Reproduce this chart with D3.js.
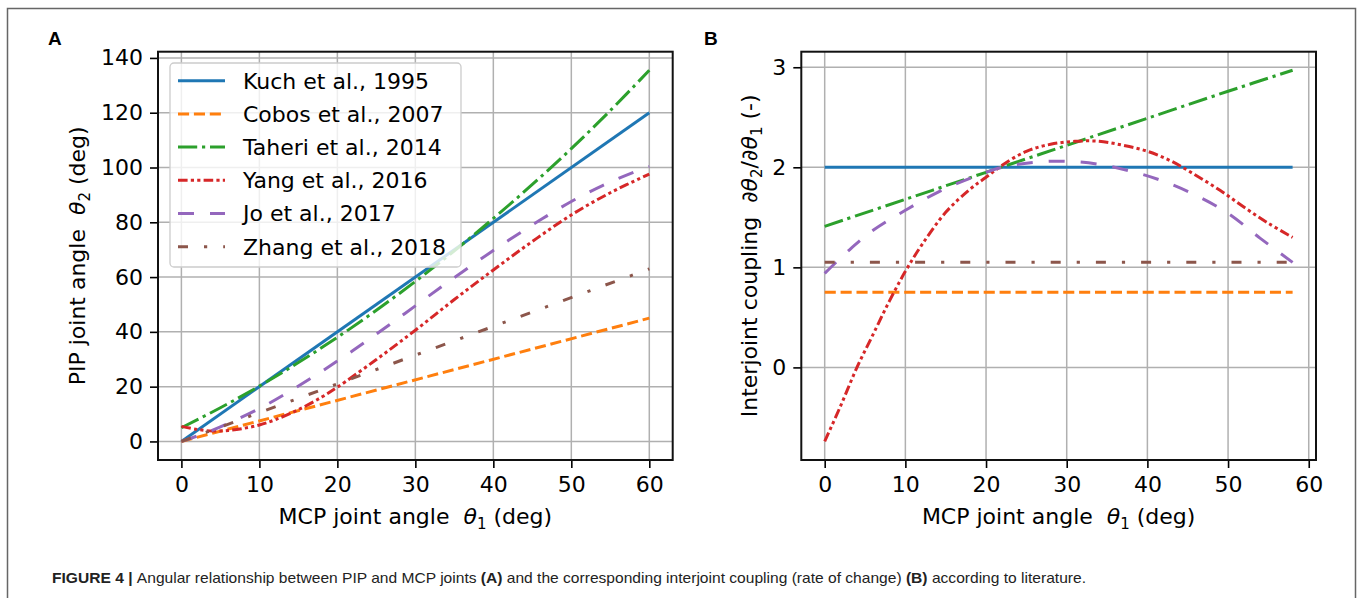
<!DOCTYPE html>
<html><head><meta charset="utf-8">
<script src="https://cdn.jsdelivr.net/npm/d3@7"></script>
<style>
html,body{margin:0;padding:0;background:#fff;}
svg{display:block;}
text{font-family:"DejaVu Sans",sans-serif;}
</style></head>
<body>
<script>
// ---------------- data ----------------
const seriesNames = ["Kuch et al., 1995","Cobos et al., 2007","Taheri et al., 2014","Yang et al., 2016","Jo et al., 2017","Zhang et al., 2018"];

// Panel A: PIP angle vs MCP angle (deg)
const kuchAX = [0, 60];
const kuchAY = [0, 120];
const cobosAX = [0, 60];
const cobosAY = [0, 45];
const taheriAX = [0,5,10,15,20,25,30,35,40,45,50,55,60];
const taheriAY = [5.0,12.3,20.2,28.8,38.0,47.9,58.4,69.6,81.4,93.8,106.9,120.8,135.5];
const yangAX = [0,2,4,6,8,10,12,15,18,20,25,30,35,40,45,50,55,60];
const yangAY = [5.5,4.4,3.8,4.0,4.8,6.0,7.9,11.6,16.2,19.8,29.9,40.6,51.8,62.6,73.0,82.7,90.8,97.6];
const joAX = [0,3,6,10,14,18,22,26,30,34,38,42,46,50,54,58,60];
const joAY = [0,3.0,6.6,12.0,18.5,25.6,33.2,41.2,49.5,57.8,65.8,73.5,80.8,87.6,93.4,98.3,100.3];
const zhangAX = [0, 60];
const zhangAY = [0, 63];

// Panel B: interjoint coupling vs MCP angle
const kuchBX = [0, 58];
const kuchBY = [2, 2];
const cobosBX = [0, 58];
const cobosBY = [0.75, 0.75];
const taheriBX = [0,10,20,30,40,50,58];
const taheriBY = [1.41,1.68,1.95,2.22,2.49,2.76,2.97];
const yangBX = [0,2,4,6,8,10,12,15,18,20,22,25,28,31,34,37,40,43,46,49,52,55,58];
const yangBY = [-0.74,-0.38,0.0,0.33,0.66,0.96,1.22,1.55,1.78,1.9,2.02,2.16,2.23,2.26,2.26,2.22,2.16,2.06,1.92,1.77,1.6,1.44,1.3];
const joBX = [0,3,6,10,14,18,22,26,30,34,38,42,46,50,54,58];
const joBY = [0.94,1.17,1.37,1.57,1.75,1.89,2.0,2.05,2.06,2.03,1.96,1.86,1.72,1.54,1.29,1.05];
const zhangBX = [0, 58];
const zhangBY = [1.05, 1.05];

// ticks
const xTicksA = [0,10,20,30,40,50,60];
const yTicksA = [0,20,40,60,80,100,120,140];
const xTicksB = [0,10,20,30,40,50,60];
const yTicksB = [0,1,2,3];

// ---------------- styles ----------------
const colors = ["#1f77b4","#ff7f0e","#2ca02c","#d62728","#9467bd","#8c564b"];
const dashes = [null,"11.1,4.8","19.2,4.8,3.2,4.8","9.6,3.2,3.2,3.2,3.2,3.2","16,16","10,16,3.2,16"];
const LW = 3;
const FS = 22;

const W = 1358, H = 598;
const svg = d3.select("body").append("svg").attr("width", W).attr("height", H);
svg.append("rect").attr("width", W).attr("height", H).attr("fill", "#fff");

// outer frame
svg.append("path").attr("d", `M7.5,${H} V8.5 H1355.5 V${H}`)
  .attr("fill","none").attr("stroke","#666").attr("stroke-width",1.5);

function zip(xs, ys){ return xs.map((v,i)=>[v, ys[i]]); }
function padDomain(vals){
  const mn = d3.min(vals), mx = d3.max(vals), p = (mx-mn)*0.05;
  return [mn-p, mx+p];
}

function drawPanel(cfg){
  const g = svg.append("g");
  const allX = cfg.series.flatMap(s=>s[0]);
  const allY = cfg.series.flatMap(s=>s[1]);
  const x = d3.scaleLinear().domain(padDomain(allX)).range([cfg.L, cfg.R]);
  const y = d3.scaleLinear().domain(padDomain(allY)).range([cfg.B, cfg.T]);

  // grid
  g.append("g").selectAll("line").data(cfg.xTicks).join("line")
    .attr("x1", d=>x(d)).attr("x2", d=>x(d)).attr("y1", cfg.T).attr("y2", cfg.B)
    .attr("stroke","#b0b0b0").attr("stroke-width",1.5);
  g.append("g").selectAll("line").data(cfg.yTicks).join("line")
    .attr("y1", d=>y(d)).attr("y2", d=>y(d)).attr("x1", cfg.L).attr("x2", cfg.R)
    .attr("stroke","#b0b0b0").attr("stroke-width",1.5);

  // lines
  const line = d3.line().x(d=>x(d[0])).y(d=>y(d[1])).curve(d3.curveCatmullRom.alpha(0.5));
  cfg.series.forEach((s,i)=>{
    const p = g.append("path").attr("d", line(zip(s[0], s[1])))
      .attr("fill","none").attr("stroke", colors[i]).attr("stroke-width", LW)
      .attr("stroke-linecap","butt").attr("stroke-linejoin","round");
    if (dashes[i]) p.attr("stroke-dasharray", dashes[i]);
  });

  // axes
  const ax = g.append("g").attr("transform", `translate(0,${cfg.B})`)
    .call(d3.axisBottom(x).tickValues(cfg.xTicks).tickSize(8).tickPadding(8).tickFormat(d3.format("d")));
  const ay = g.append("g").attr("transform", `translate(${cfg.L},0)`)
    .call(d3.axisLeft(y).tickValues(cfg.yTicks).tickSize(8).tickPadding(7).tickFormat(d3.format("d")));
  [ax, ay].forEach(a=>{
    a.select(".domain").remove();
    a.selectAll(".tick line").attr("stroke","#000").attr("stroke-width",1.6);
    a.selectAll(".tick text").attr("fill","#000").style("font-family","DejaVu Sans").style("font-size", FS+"px");
  });

  // spines
  g.append("rect").attr("x", cfg.L).attr("y", cfg.T).attr("width", cfg.R-cfg.L).attr("height", cfg.B-cfg.T)
    .attr("fill","none").attr("stroke","#111").attr("stroke-width",2);

  // x label
  const xl = g.append("text").attr("x", (cfg.L+cfg.R)/2).attr("y", 524)
    .attr("text-anchor","middle").style("font-size", FS+"px").style("white-space","pre").attr("fill","#000");
  xl.append("tspan").text("MCP joint angle  ");
  xl.append("tspan").text("θ").style("font-style","italic");
  xl.append("tspan").text("1").style("font-size","15px").attr("dy", 5);
  xl.append("tspan").text(" (deg)").attr("dy", -5);

  // y label
  const yl = g.append("text").attr("transform", `translate(${cfg.ylx},${(cfg.T+cfg.B)/2}) rotate(-90)`)
    .attr("text-anchor","middle").style("font-size", FS+"px").style("white-space","pre").attr("fill","#000");
  cfg.ylabel(yl);

  // panel letter
  svg.append("text").attr("x", cfg.letterX).attr("y", 45).text(cfg.letter)
    .style("font-family","Liberation Sans, Arial, sans-serif").style("font-weight","bold").style("font-size","19px");

  return {x, y, g};
}

const A = drawPanel({
  L:158, R:672.7, T:51.7, B:460, ylx:85, letter:"A", letterX:48,
  xTicks:xTicksA, yTicks:yTicksA,
  series:[[kuchAX,kuchAY],[cobosAX,cobosAY],[taheriAX,taheriAY],[yangAX,yangAY],[joAX,joAY],[zhangAX,zhangAY]],
  ylabel: t=>{
    t.append("tspan").text("PIP joint angle  ");
    t.append("tspan").text("θ").style("font-style","italic");
    t.append("tspan").text("2").style("font-size","15px").attr("dy",5);
    t.append("tspan").text(" (deg)").attr("dy",-5);
  }
});

const Bp = drawPanel({
  L:801.3, R:1316, T:51.7, B:460, ylx:757, letter:"B", letterX:704,
  xTicks:xTicksB, yTicks:yTicksB,
  series:[[kuchBX,kuchBY],[cobosBX,cobosBY],[taheriBX,taheriBY],[yangBX,yangBY],[joBX,joBY],[zhangBX,zhangBY]],
  ylabel: t=>{
    t.append("tspan").text("Interjoint coupling  ∂");
    t.append("tspan").text("θ").style("font-style","italic");
    t.append("tspan").text("2").style("font-size","15px").attr("dy",5);
    t.append("tspan").text("/∂").attr("dy",-5);
    t.append("tspan").text("θ").style("font-style","italic");
    t.append("tspan").text("1").style("font-size","15px").attr("dy",5);
    t.append("tspan").text(" (-)").attr("dy",-5);
  }
});

// legend (panel A)
const lg = svg.append("g");
lg.append("rect").attr("x",170).attr("y",63).attr("width",291).attr("height",204).attr("rx",4)
  .attr("fill","#fff").attr("fill-opacity",0.8).attr("stroke","#cccccc").attr("stroke-width",1.3);
seriesNames.forEach((n,i)=>{
  const yy = 80.7 + 33.2*i;
  const l = lg.append("line").attr("x1",178).attr("x2",225).attr("y1",yy).attr("y2",yy)
    .attr("stroke",colors[i]).attr("stroke-width",LW).attr("stroke-linecap","butt");
  if (dashes[i]) l.attr("stroke-dasharray", dashes[i]);
  lg.append("text").attr("x",243).attr("y",yy).attr("dy","0.36em").text(n)
    .style("font-size",FS+"px").attr("fill","#000");
});

// caption
const cap = svg.append("text").attr("x",52).attr("y",583)
  .attr("textLength",1034).attr("lengthAdjust","spacingAndGlyphs")
  .style("font-family","Liberation Sans, Arial, sans-serif").style("font-size","15px").attr("fill","#222").style("white-space","pre");
cap.append("tspan").text("FIGURE 4 | ").style("font-weight","bold");
cap.append("tspan").text("Angular relationship between PIP and MCP joints ");
cap.append("tspan").text("(A)").style("font-weight","bold");
cap.append("tspan").text(" and the corresponding interjoint coupling (rate of change) ");
cap.append("tspan").text("(B)").style("font-weight","bold");
cap.append("tspan").text(" according to literature.");
</script>
</body></html>
